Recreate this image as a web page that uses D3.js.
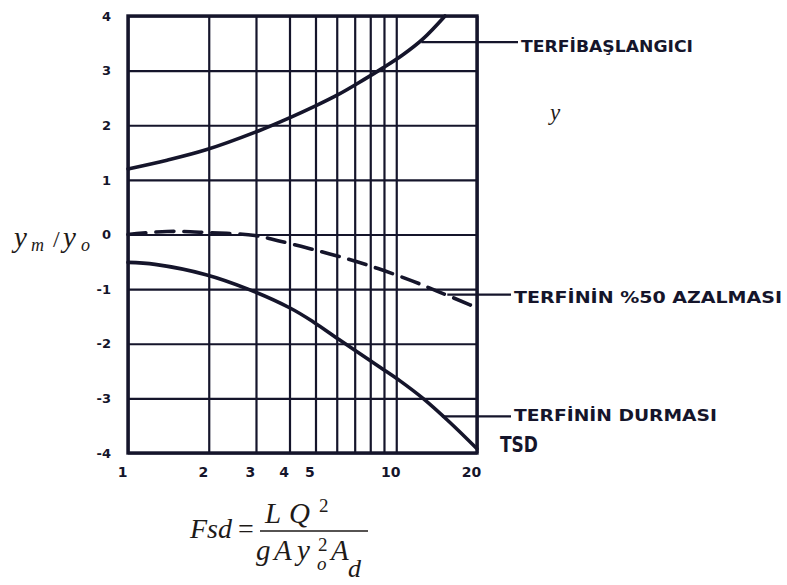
<!DOCTYPE html>
<html>
<head>
<meta charset="utf-8">
<script src="https://cdn.jsdelivr.net/npm/d3@7"></script>
<style>
  html, body { margin: 0; padding: 0; background: #fff; }
  svg { display: block; }
</style>
</head>
<body>
<svg id="chart" width="787" height="585"></svg>
<script>
// Grid and tick values (logarithmic TSD axis)
const xGridValues = [1, 2, 3, 4, 5, 6, 7, 8, 9, 10, 20];
const xTickLabels = [1, 2, 3, 4, 5, 10, 20];
const yTickValues = [-4, -3, -2, -1, 0, 1, 2, 3, 4];

// Onset of pumping: TERFİ BAŞLANGICI
const startX = [1, 1.398, 1.953, 3.078, 4.018, 4.979, 6.066, 7.141, 8.926, 10.59, 12.58, 15.2];
const startY = [1.2, 1.36, 1.55, 1.9, 2.14, 2.35, 2.56, 2.76, 3.05, 3.29, 3.58, 4.0];

// 50% reduction of pumping: TERFİNİN %50 AZALMASI
const halfX = [1, 1.398, 1.953, 2.975, 3.625, 4.81, 6.44, 8.55, 11.45, 14.56, 18.83, 20];
const halfY = [0, 0.056, 0.037, -0.019, -0.113, -0.264, -0.434, -0.623, -0.849, -1.058, -1.288, -1.346];

// Pumping stops: TERFİNİN DURMASI
const stopX = [1, 1.261, 1.953, 2.802, 4.018, 4.894, 6.118, 8.699, 10.33, 12.58, 15.86, 20];
const stopY = [-0.51, -0.547, -0.736, -1.0, -1.346, -1.596, -1.923, -2.429, -2.679, -3.0, -3.441, -3.922];

// Leader anchors on each curve [x, y]
const startLeader = [12.4, 3.52];
const halfLeader = [15.5, -1.1];
const stopLeader = [14.8, -3.33];

const ink = "#15152b";
const mathInk = "#1e1a18";
const letterFont = "'DejaVu Sans', 'Liberation Sans', sans-serif";
const mathFont = "'Liberation Serif', 'DejaVu Serif', serif";

const svg = d3.select("#chart");

const x = d3.scaleLog().domain([1, 20]).range([128, 477]);
const y = d3.scaleLinear().domain([-4, 4]).range([453, 16]);

const plotH = y(-4) - y(4);
const plotW = x(20) - x(1);

// Vertical grid lines
svg.append("g")
  .attr("transform", `translate(0,${y(-4)})`)
  .call(d3.axisBottom(x).tickValues(xGridValues).tickSize(-plotH).tickFormat(""))
  .call(g => g.select(".domain").remove())
  .call(g => g.selectAll(".tick line").attr("stroke", ink).attr("stroke-width", 2.2));

// Horizontal grid lines
svg.append("g")
  .attr("transform", `translate(${x(1)},0)`)
  .call(d3.axisLeft(y).tickValues(yTickValues).tickSize(-plotW).tickFormat(""))
  .call(g => g.select(".domain").remove())
  .call(g => g.selectAll(".tick line").attr("stroke", ink).attr("stroke-width", 2.2));

// Frame
svg.append("rect")
  .attr("x", x(1)).attr("y", y(4))
  .attr("width", plotW).attr("height", plotH)
  .attr("fill", "none").attr("stroke", ink).attr("stroke-width", 3.4);

// Tick labels
svg.append("g")
  .attr("transform", `translate(0,${y(-4)})`)
  .call(d3.axisBottom(x).tickValues(xTickLabels).tickSize(0).tickPadding(14).tickFormat(d3.format("d")))
  .call(g => g.select(".domain").remove())
  .call(g => g.selectAll("text")
    .attr("dx", -6)
    .attr("fill", ink)
    .style("font-family", letterFont)
    .style("font-weight", "bold")
    .style("font-size", "14px"));

svg.append("g")
  .attr("transform", `translate(${x(1)},0)`)
  .call(d3.axisLeft(y).tickValues(yTickValues).tickSize(0).tickPadding(17).tickFormat(d => d < 0 ? "-" + Math.abs(d) : d))
  .call(g => g.select(".domain").remove())
  .call(g => g.selectAll("text")
    .attr("fill", ink)
    .style("font-family", letterFont)
    .style("font-weight", "bold")
    .style("font-size", "13px"));

// Curves
const line = d3.line()
  .x(d => x(d[0]))
  .y(d => y(d[1]))
  .curve(d3.curveCatmullRom.alpha(0.5));

const series = [
  { xs: startX, ys: startY, dash: null },
  { xs: halfX, ys: halfY, dash: "18,10" },
  { xs: stopX, ys: stopY, dash: null }
];

svg.append("g").selectAll("path")
  .data(series)
  .join("path")
  .attr("d", s => line(s.xs.map((v, i) => [v, s.ys[i]])))
  .attr("fill", "none")
  .attr("stroke", ink)
  .attr("stroke-width", 3.6)
  .attr("stroke-linecap", "round")
  .attr("stroke-dasharray", s => s.dash);

// Leader lines and curve labels
const labels = [
  { anchor: startLeader, end: 518, text: "TERFİBAŞLANGICI", tx: 521, ty: 52, len: 172, size: 15 },
  { anchor: halfLeader, end: 511, text: "TERFİNİN %50 AZALMASI", tx: 514, ty: 303, len: 268, size: 16 },
  { anchor: stopLeader, end: 511, text: "TERFİNİN DURMASI", tx: 514, ty: 421, len: 203, size: 16 }
];

svg.append("g").selectAll("line")
  .data(labels)
  .join("line")
  .attr("x1", d => x(d.anchor[0]))
  .attr("x2", d => d.end)
  .attr("y1", d => y(d.anchor[1]))
  .attr("y2", d => y(d.anchor[1]))
  .attr("stroke", ink)
  .attr("stroke-width", 2.2);

svg.append("g").selectAll("text")
  .data(labels)
  .join("text")
  .attr("x", d => d.tx)
  .attr("y", d => d.ty)
  .attr("textLength", d => d.len)
  .attr("lengthAdjust", "spacingAndGlyphs")
  .attr("fill", ink)
  .style("font-family", letterFont)
  .style("font-weight", "bold")
  .style("font-size", d => d.size + "px")
  .text(d => d.text);

// Axis name TSD
svg.append("text")
  .attr("x", 500).attr("y", 452)
  .attr("textLength", 38).attr("lengthAdjust", "spacingAndGlyphs")
  .attr("fill", ink)
  .style("font-family", letterFont)
  .style("font-weight", "bold")
  .style("font-size", "22px")
  .text("TSD");

// Math annotations
const math = svg.append("g")
  .attr("fill", mathInk)
  .style("font-family", mathFont)
  .style("font-style", "italic");

// y_m / y_o
math.append("text").attr("x", 14).attr("y", 247).style("font-size", "29px").text("y");
math.append("text").attr("x", 31).attr("y", 251).style("font-size", "18px").text("m");
math.append("text").attr("x", 53).attr("y", 247).style("font-size", "24px").style("font-style", "normal").text("/");
math.append("text").attr("x", 63).attr("y", 247).style("font-size", "29px").text("y");
math.append("text").attr("x", 81).attr("y", 251).style("font-size", "18px").text("o");

// lone y
math.append("text").attr("x", 550).attr("y", 120).style("font-size", "23px").text("y");

// Fsd = L Q² / (g A y_o² A_d)
math.append("text").attr("x", 190).attr("y", 538).style("font-size", "28px").text("Fsd");
math.append("text").attr("x", 238).attr("y", 538).style("font-size", "28px").style("font-style", "normal").text("=");
svg.append("line")
  .attr("x1", 260).attr("x2", 368).attr("y1", 531).attr("y2", 531)
  .attr("stroke", mathInk).attr("stroke-width", 1.6);

math.append("text").attr("x", 265).attr("y", 523).style("font-size", "29px").text("L");
math.append("text").attr("x", 289).attr("y", 523).style("font-size", "29px").text("Q");
math.append("text").attr("x", 319).attr("y", 512).style("font-size", "19px").style("font-style", "normal").text("2");

math.append("text").attr("x", 256).attr("y", 560).style("font-size", "29px").text("g");
math.append("text").attr("x", 274).attr("y", 560).style("font-size", "29px").text("A");
math.append("text").attr("x", 297).attr("y", 560).style("font-size", "29px").text("y");
math.append("text").attr("x", 317).attr("y", 570).style("font-size", "19px").text("o");
math.append("text").attr("x", 318).attr("y", 551).style("font-size", "19px").style("font-style", "normal").text("2");
math.append("text").attr("x", 331).attr("y", 560).style("font-size", "29px").text("A");
math.append("text").attr("x", 348).attr("y", 577).style("font-size", "26px").text("d");
</script>
</body>
</html>
